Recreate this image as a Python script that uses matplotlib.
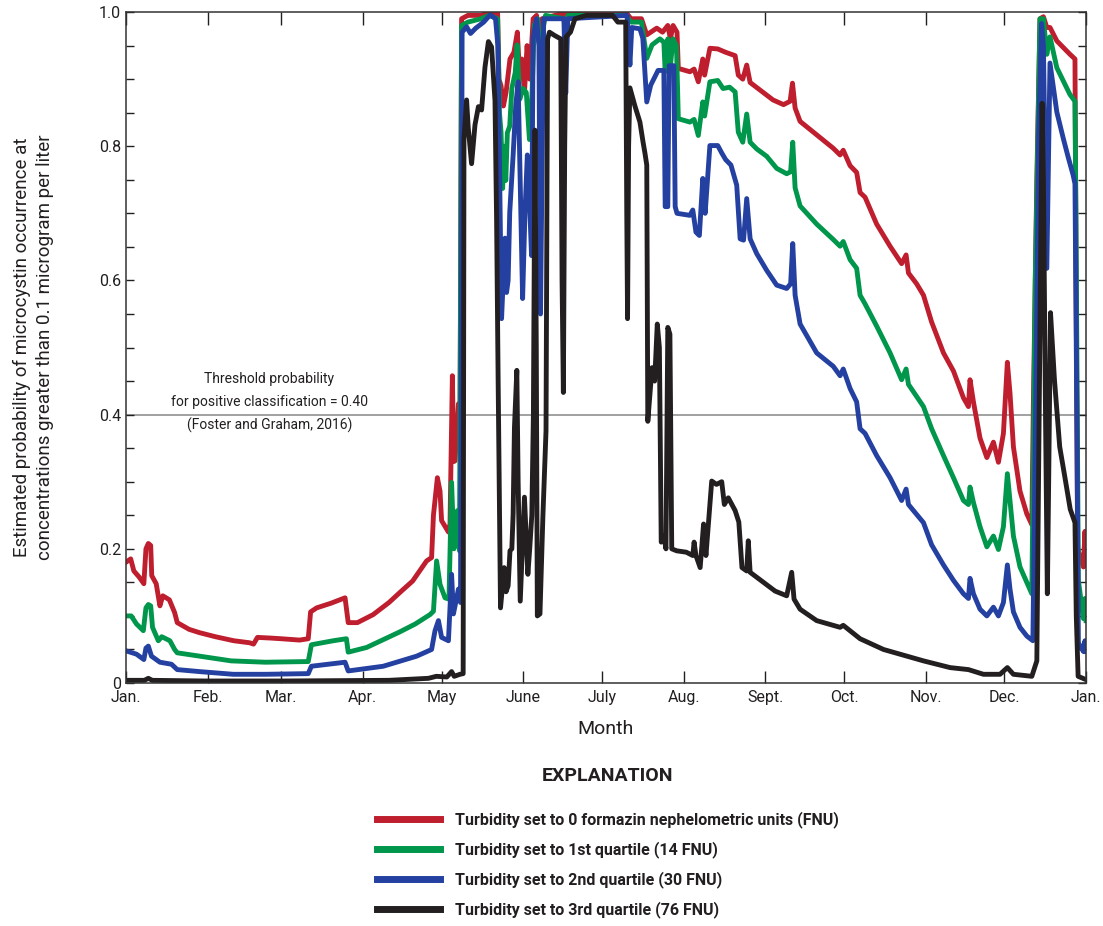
import numpy as np
import matplotlib
matplotlib.use("Agg")
import matplotlib.pyplot as plt

plt.rcParams['font.family'] = ['Liberation Sans Narrow', 'Roboto', 'DejaVu Sans']

# ---- data: day of year (0 = Jan 1) and estimated probability ----
red_days = [0, 1.8, 3, 5, 6.8, 7.6, 8.5, 9.4, 9.8, 11.5, 12.9, 14, 16.5, 18.5, 19.5, 24, 28, 34, 41, 47,
            48.5, 50, 55, 59, 66, 69.3, 70.2, 72.5, 78, 83.3, 84.5, 88, 94, 100, 105, 109, 114.3, 116.2,
            116.9, 118.4, 119.4, 120, 122.6, 123.2, 124.1, 124.6, 125.1, 126.4, 127, 127.6, 130, 135, 138,
            141.3, 141.8, 142.6, 143.5, 144.5, 146, 147.5, 148.8, 149.6, 150.5, 151.5, 152.5, 153.5, 154.8,
            156.1, 157, 157.5, 158.2, 166, 167, 168, 190, 192, 196, 198, 201.8, 204, 206, 207, 208, 209.5,
            210, 214.4, 216, 217.6, 219.3, 220, 222, 225, 228, 231.6, 232.8, 234.5, 236, 237.3, 241, 246,
            250, 252.5, 253.4, 254.4, 256.3, 262.6, 268.9, 271.5, 272.7, 275.3, 277.8, 279.1, 281, 285.4,
            290.5, 294.9, 296.6, 297.5, 300.6, 303.2, 306.3, 310.8, 314.6, 318.4, 320.3, 320.9, 322.2,
            324.7, 327.3, 329.8, 331.7, 333.6, 335.1, 336.1, 337.4, 339.9, 342.5, 344.4, 345, 346.3, 347.5,
            348.8, 350.1, 351.3, 353.9, 356.4, 358.9, 360.8, 361.2, 361.8, 364, 364.6, 365]
red_vals = [0.18, 0.185, 0.167, 0.158, 0.148, 0.2, 0.208, 0.205, 0.16, 0.148, 0.115, 0.13, 0.124, 0.105,
            0.09, 0.08, 0.075, 0.069, 0.063, 0.06, 0.058, 0.068, 0.067, 0.066, 0.064, 0.066, 0.106, 0.112,
            0.119, 0.127, 0.09, 0.09, 0.102, 0.12, 0.138, 0.152, 0.182, 0.187, 0.25, 0.306, 0.286, 0.242,
            0.225, 0.237, 0.458, 0.33, 0.331, 0.416, 0.376, 0.99, 0.995, 0.995, 1.0, 0.998, 0.90, 0.89,
            0.86, 0.88, 0.93, 0.94, 0.97, 0.91, 0.93, 0.88, 0.95, 0.90, 0.99, 0.995, 0.97, 0.93, 0.99,
            0.998, 0.99, 1.0, 1.0, 0.99, 0.99, 0.966, 0.976, 0.97, 0.98, 0.96, 0.98, 0.97, 0.916, 0.911,
            0.915, 0.896, 0.93, 0.906, 0.946, 0.945, 0.94, 0.935, 0.906, 0.90, 0.921, 0.895, 0.884, 0.869,
            0.862, 0.867, 0.894, 0.857, 0.837, 0.817, 0.797, 0.787, 0.794, 0.771, 0.761, 0.731, 0.724,
            0.684, 0.651, 0.625, 0.638, 0.611, 0.595, 0.578, 0.538, 0.492, 0.465, 0.425, 0.412, 0.452,
            0.419, 0.365, 0.336, 0.359, 0.329, 0.372, 0.478, 0.432, 0.352, 0.286, 0.252, 0.236, 0.42,
            0.75, 0.99, 0.993, 0.977, 0.977, 0.957, 0.947, 0.937, 0.93, 0.618, 0.2, 0.173, 0.226, 0.175]

green_days = [0, 2, 4, 6.6, 7.6, 8.5, 9.4, 10.1, 12.3, 13.6, 16.7, 18.5, 19.5, 28, 40, 53, 69.3, 70.5,
              78.8, 83.8, 84.5, 91.5, 104, 110, 115.6, 116.9, 118.1, 119.4, 121.3, 122.8, 123.8, 124.7,
              126, 126.8, 127.6, 130, 135, 138, 141.3, 142, 142.6, 143.2, 143.8, 144.4, 145, 145.9, 146.7,
              148, 148.7, 149.7, 151, 152.2, 152.8, 153.4, 154.4, 155.2, 156.5, 157.2, 157.8, 158.8,
              159.5, 166.5, 167.2, 168, 190, 192, 196, 198, 200, 203, 204.5, 205, 206, 207, 208, 209.3,
              210, 214.4, 216, 217.6, 219.3, 220, 222, 225, 227, 229.5, 231.6, 232.8, 234.5, 236, 237.3,
              239.8, 243.6, 247.4, 251.2, 252.7, 253.5, 254.4, 256.3, 262.6, 268.9, 271.5, 272.7, 275.3,
              277.8, 279.1, 281, 285.4, 290.5, 294.9, 296.6, 297.5, 303.2, 306.3, 310.8, 314.6, 318.4,
              320.3, 320.9, 322.2, 324.7, 327.3, 329.8, 331.7, 333.6, 335.1, 336.1, 337.4, 339.9, 342.5,
              344.4, 345.7, 347.5, 348.8, 350.1, 351.3, 353.9, 356.4, 358.9, 360.8, 361.2, 362.1, 364,
              364.6, 365]
green_vals = [0.1, 0.1, 0.088, 0.078, 0.112, 0.117, 0.115, 0.083, 0.063, 0.069, 0.063, 0.05, 0.045,
              0.04, 0.033, 0.031, 0.032, 0.057, 0.063, 0.066, 0.046, 0.053, 0.076, 0.088, 0.102, 0.107,
              0.182, 0.147, 0.127, 0.125, 0.299, 0.2, 0.257, 0.197, 0.98, 0.985, 0.99, 0.995, 0.99, 0.85,
              0.821, 0.737, 0.8, 0.749, 0.82, 0.83, 0.886, 0.91, 0.951, 0.87, 0.886, 0.88, 0.846, 0.81,
              0.88, 0.98, 0.99, 0.95, 0.87, 0.98, 0.995, 0.99, 0.97, 0.995, 0.995, 0.985, 0.985, 0.931,
              0.951, 0.96, 0.955, 0.911, 0.96, 0.92, 0.96, 0.95, 0.841, 0.836, 0.84, 0.816, 0.866, 0.845,
              0.896, 0.898, 0.886, 0.888, 0.881, 0.821, 0.806, 0.848, 0.806, 0.796, 0.785, 0.767, 0.759,
              0.762, 0.806, 0.738, 0.711, 0.684, 0.661, 0.651, 0.658, 0.631, 0.618, 0.578, 0.565, 0.532,
              0.492, 0.452, 0.468, 0.445, 0.412, 0.379, 0.339, 0.306, 0.272, 0.266, 0.292, 0.269, 0.233,
              0.203, 0.219, 0.199, 0.233, 0.312, 0.272, 0.219, 0.173, 0.15, 0.133, 0.6, 0.99, 0.99,
              0.937, 0.963, 0.917, 0.897, 0.877, 0.867, 0.684, 0.153, 0.096, 0.126, 0.093]

blue_days = [0, 4, 6.8, 7.6, 8.5, 9.7, 12.9, 17.3, 19.5, 28, 40.8, 53, 69.3, 70.5, 83.3, 84.5, 97.8,
             110.5, 116.2, 117.5, 118.8, 120, 122.6, 123.8, 124.5, 126.4, 127.2, 127.8, 129.5, 131, 133,
             136, 138.5, 140.5, 141.4, 142, 142.8, 144.1, 144.7, 145.3, 145.9, 147.2, 148.2, 149.1, 149.8,
             150.8, 151.7, 152.6, 153.4, 154.2, 154.8, 156.1, 157, 157.6, 158.3, 158.8, 166.5, 167.2, 168,
             190.5, 191.6, 192.3, 195.4, 196.5, 198, 199.5, 202.3, 204.5, 205, 206, 206.5, 208.3, 208.8,
             209.5, 214.4, 215.5, 216.7, 218, 219.3, 220.2, 222, 225, 226.5, 228, 230, 232.2, 233.5,
             234.8, 236, 237.3, 239.8, 243.6, 247.4, 251.2, 252.7, 253.5, 254.4, 256.3, 262.6, 268.9,
             271.5, 272.7, 275.3, 277.8, 279.1, 281, 285.4, 290.5, 294.9, 296.6, 297.5, 303.2, 306.3,
             310.8, 314.6, 318.4, 320.3, 320.9, 322.2, 324.7, 327.3, 329.8, 331.7, 333.6, 335.1, 336.1,
             337.4, 339.9, 342.5, 344.8, 345.7, 347, 348.1, 348.8, 350.1, 351.3, 353.9, 356.4, 358.2,
             360.1, 360.8, 361.6, 362.1, 364, 364.6, 365]
blue_vals = [0.048, 0.043, 0.035, 0.052, 0.055, 0.04, 0.031, 0.028, 0.02, 0.017, 0.013, 0.013, 0.014,
             0.025, 0.031, 0.018, 0.025, 0.04, 0.05, 0.078, 0.093, 0.068, 0.063, 0.162, 0.103, 0.14, 0.12,
             0.97, 0.978, 0.968, 0.976, 0.985, 0.996, 0.99, 0.95, 0.78, 0.543, 0.663, 0.582, 0.6, 0.701,
             0.787, 0.861, 0.896, 0.762, 0.573, 0.701, 0.787, 0.72, 0.637, 0.961, 0.99, 0.95, 0.55, 0.8,
             0.99, 0.99, 0.879, 0.99, 0.995, 0.921, 0.977, 0.975, 0.961, 0.866, 0.891, 0.913, 0.913, 0.71,
             0.71, 0.92, 0.92, 0.71, 0.70, 0.697, 0.705, 0.672, 0.667, 0.752, 0.70, 0.801, 0.801, 0.79,
             0.78, 0.772, 0.742, 0.662, 0.66, 0.722, 0.662, 0.64, 0.615, 0.593, 0.588, 0.595, 0.655,
             0.578, 0.535, 0.492, 0.472, 0.458, 0.468, 0.439, 0.419, 0.379, 0.372, 0.339, 0.306, 0.272,
             0.289, 0.266, 0.239, 0.206, 0.176, 0.153, 0.133, 0.126, 0.156, 0.133, 0.11, 0.1, 0.113, 0.1,
             0.12, 0.176, 0.14, 0.106, 0.083, 0.07, 0.063, 0.352, 0.817, 0.983, 0.95, 0.618, 0.924, 0.851,
             0.811, 0.784, 0.757, 0.744, 0.352, 0.06, 0.047, 0.063, 0.047]

black_days = [0, 7, 8.5, 10, 30, 60, 100, 115, 118, 122, 123.8, 124.8, 127, 128.2, 128.5, 129.5, 130.1,
              131.4, 132.7, 134, 135.2, 136.5, 137.8, 139, 140.3, 140.9, 141.5, 142.4, 143.8, 144.5, 145.3,
              146, 146.7, 147.2, 147.7, 148.6, 149.1, 149.9, 150.7, 151.5, 152, 152.8, 153.5, 154.3, 154.9,
              155.5, 156, 156.4, 157.4, 158.5, 159.7, 160.3, 161, 163, 165.3, 165.8, 166.3, 166.8, 167.3,
              169, 170.7, 175, 185, 187, 190, 190.4, 190.7, 191.1, 191.6, 193.5, 195.4, 196.6, 197.3, 198,
              198.4, 199, 200, 201, 202, 202.8, 203.5, 204.5, 205.3, 206, 206.8, 207.5, 209.4, 213, 215.5,
              216, 216.7, 218.3, 219.6, 220.5, 222.7, 224.5, 226.5, 227.5, 229, 231.6, 233, 234.2, 236,
              236.6, 237.3, 241.7, 246.8, 251.2, 253.1, 254, 256.3, 262.6, 271.5, 272.7, 279.1, 288,
              296.9, 303.2, 313.3, 320.3, 326, 332.3, 335.1, 337.4, 344.4, 346.3, 347.2, 348.3, 348.8,
              349.6, 350.3, 350.8, 351.5, 353, 355, 357, 359, 360.8, 361.3, 362, 365]
black_vals = [0.004, 0.004, 0.007, 0.004, 0.003, 0.003, 0.004, 0.007, 0.01, 0.009, 0.017, 0.01, 0.013,
              0.014, 0.81, 0.869, 0.829, 0.774, 0.832, 0.859, 0.854, 0.918, 0.956, 0.948, 0.868, 0.694,
              0.45, 0.112, 0.172, 0.136, 0.145, 0.197, 0.2, 0.252, 0.381, 0.466, 0.3, 0.122, 0.2, 0.277,
              0.232, 0.162, 0.2, 0.25, 0.4, 0.824, 0.5, 0.1, 0.103, 0.247, 0.376, 0.96, 0.97, 0.965, 0.96,
              0.6, 0.433, 0.8, 0.963, 0.97, 0.99, 0.995, 0.995, 0.985, 0.985, 0.7, 0.543, 0.8, 0.887,
              0.86, 0.836, 0.806, 0.79, 0.772, 0.39, 0.42, 0.47, 0.45, 0.535, 0.5, 0.21, 0.22, 0.2, 0.53,
              0.52, 0.2, 0.197, 0.195, 0.19, 0.21, 0.19, 0.172, 0.237, 0.19, 0.301, 0.296, 0.30, 0.266,
              0.276, 0.257, 0.24, 0.172, 0.167, 0.212, 0.165, 0.152, 0.137, 0.13, 0.165, 0.125, 0.11,
              0.093, 0.083, 0.086, 0.066, 0.05, 0.04, 0.033, 0.023, 0.02, 0.013, 0.013, 0.023, 0.013,
              0.01, 0.033, 0.4, 0.864, 0.75, 0.4, 0.133, 0.3, 0.552, 0.452, 0.352, 0.306, 0.259, 0.239,
              0.1, 0.01, 0.005]

labels = ["Turbidity set to 0 formazin nephelometric units (FNU)",
          "Turbidity set to 1st quartile (14 FNU)",
          "Turbidity set to 2nd quartile (30 FNU)",
          "Turbidity set to 3rd quartile (76 FNU)"]
colors = ["#BE1E2D", "#00964B", "#2440A0", "#231F20"]

month_pos = [0, 31, 59, 90, 120, 151, 181, 212, 243, 273, 304, 334, 365]
month_lbl = ["Jan.", "Feb.", "Mar.", "Apr.", "May", "June", "July", "Aug.", "Sept.", "Oct.", "Nov.",
             "Dec.", "Jan."]
threshold = 0.40

fig = plt.figure(figsize=(11.03, 9.26), dpi=100)
ax = fig.add_axes([0.1142, 0.2624, 0.8704, 0.7246])

ax.axhline(threshold, color="#9a9a9a", lw=1.3, zorder=1)
series = [(red_days, red_vals), (green_days, green_vals), (blue_days, blue_vals), (black_days, black_vals)]
handles = []
for (d, v), c, lab in zip(series, colors, labels):
    ln, = ax.plot(d, v, color=c, lw=3.5, solid_joinstyle="round", label=lab, zorder=2)
    handles.append(ln)

ax.text(54.5, 0.418, "Threshold probability\nfor positive classification = 0.40\n(Foster and Graham, 2016)",
        ha="center", va="center", fontsize=10, linespacing=1.75, color="#231F20")

ax.set_xlim(0, 365)
ax.set_ylim(0, 1)
ax.set_xticks(month_pos)
ax.set_xticklabels(month_lbl)
ax.set_yticks(np.arange(0, 1.0001, 0.05), minor=True)
ax.set_yticks([0, 0.2, 0.4, 0.6, 0.8, 1.0])
ax.set_yticklabels(["0", "0.2", "0.4", "0.6", "0.8", "1.0"])
ax.tick_params(axis="x", direction="in", length=9, width=1, top=True, labelsize=11.5, pad=5,
               colors="#231F20")
ax.tick_params(axis="y", which="both", direction="in", length=5.5, width=1, right=True,
               labelsize=11.5, colors="#231F20")
for sp in ax.spines.values():
    sp.set_color("#333333")
    sp.set_linewidth(1.1)

ax.set_xlabel("Month", fontsize=14, color="#231F20", labelpad=11)
ax.set_ylabel("Estimated probability of microcystin occurrence at\nconcentrations greater than 0.1 microgram per liter",
              fontsize=13.5, color="#231F20", labelpad=32, linespacing=1.4)

# explanation block below the plot
fig.text(0.551, 1 - 776 / 926, "EXPLANATION", ha="center", va="center", fontsize=14,
         fontweight="bold", color="#231F20")
leg = fig.legend(handles=handles, loc="upper left", bbox_to_anchor=(0.342, 1 - 811 / 926), frameon=False,
                 fontsize=11.5, handlelength=3.9, handletextpad=1.0, labelspacing=0.82,
                 borderaxespad=0, borderpad=0)
for t in leg.get_texts():
    t.set_fontweight("bold")
    t.set_color("#231F20")
for h in leg.legend_handles:
    h.set_linewidth(5)

fig.savefig("out.png", dpi=100)
